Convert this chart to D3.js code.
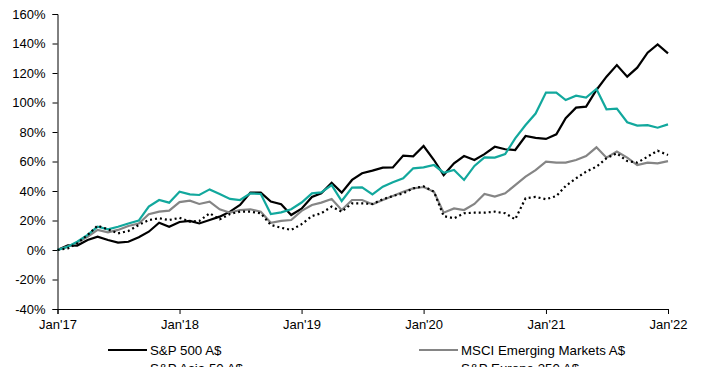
<!DOCTYPE html>
<html>
<head>
<meta charset="utf-8">
<script src="https://cdn.jsdelivr.net/npm/d3@7/dist/d3.min.js"></script>
<style>
  html, body { margin: 0; padding: 0; background: #fff; }
  svg { display: block; font-family: "Liberation Sans", Arial, sans-serif; }
</style>
</head>
<body>
<svg id="chart" width="704" height="367"></svg>
<script>
// Monthly cumulative returns (%), Jan 2017 – Jan 2022, in A$
const months = d3.timeMonth.range(new Date(2017, 0, 1), new Date(2022, 1, 1));

const sp500 = [0, 3.2, 3, 6.8, 9, 6.8, 5, 5.6, 8.6, 12.4, 18.5, 15.8, 19,
  19.7, 18, 20.3, 22.6, 26, 30.5, 38.9, 38.9, 32.8, 31, 23.7, 28,
  36, 38.4, 45.6, 38.9, 47.5, 52, 53.8, 55.8, 56, 64, 63.5, 70.5,
  61, 50.8, 58.8, 63.7, 61, 65, 70, 68.3, 67.8, 77.3, 76, 75.3,
  78.4, 89.3, 96.5, 97.2, 108.5, 117.5, 125.4, 117.5, 123.6, 133.8, 139.4, 133.3];

const msciEM = [0, 2.3, 5, 9, 13.6, 12, 13.6, 16.3, 18, 24.2, 26, 26.7, 32.5,
  33.4, 31.2, 32.8, 27.6, 25.3, 27.1, 27.6, 26, 18.5, 19.7, 20.3, 26.5,
  30.5, 32.1, 34.6, 27.1, 33.9, 33.9, 31, 33.9, 36.6, 39.5, 41.8, 42.7,
  39.5, 25.3, 28.2, 27.1, 31.2, 38, 36.2, 38.4, 44, 49.7, 54.2, 59.9,
  59.2, 59.2, 61, 63.7, 69.6, 62.6, 66.7, 62.6, 57.6, 59.2, 58.8, 60.3];

const spAsia50 = [0, 2.3, 5.6, 10.2, 15.8, 14, 15.8, 18, 19.9, 29.4, 33.9, 32.1, 39.5,
  37.7, 37.3, 41.1, 38, 34.6, 33.9, 38.4, 38, 24.4, 25.5, 27.6, 32.2,
  38.4, 39.1, 44, 33.2, 42.3, 42.5, 37.7, 42.9, 45.9, 48.6, 55.4, 56,
  57.6, 52.4, 54.2, 47.5, 57, 62.8, 62.6, 65, 75.7, 84.7, 92.5, 106.7,
  106.7, 101.7, 104.6, 103.3, 109.2, 95.4, 95.8, 86.6, 84.3, 84.7, 82.9, 85.2];

const spEurope350 = [0, 1.1, 4.5, 10.2, 16.5, 14, 11.3, 12.9, 17, 20.3, 21.5, 20.3, 21.8,
  19.2, 19.7, 24.9, 20.8, 24.4, 26, 26, 24.9, 17, 15.1, 13.6, 17.5,
  23, 24.9, 29.4, 26, 31.6, 31.6, 31.2, 34.4, 36.6, 38.4, 41.8, 43.2,
  39.5, 23, 21.5, 24.9, 25.3, 25.3, 26, 24.9, 20.8, 35.1, 36, 34.4,
  36.6, 43.4, 48.6, 53.1, 56.5, 62.2, 65.6, 60.3, 59.2, 63.3, 67.3, 64.4];

const seriesNames = ["S&P 500 A$", "MSCI Emerging Markets A$", "S&P Asia 50 A$", "S&P Europe 350 A$"];
const yTicks = [-40, -20, 0, 20, 40, 60, 80, 100, 120, 140, 160];
const xTickYears = [2017, 2018, 2019, 2020, 2021, 2022];

const series = [
  { name: seriesNames[0], values: sp500,       color: "#000000", dash: null },
  { name: seriesNames[1], values: msciEM,      color: "#858585", dash: null },
  { name: seriesNames[2], values: spAsia50,    color: "#12A89D", dash: null },
  { name: seriesNames[3], values: spEurope350, color: "#000000", dash: "2,3" }
];

const svg = d3.select("#chart");
const plot = { left: 57.5, right: 668, top: 14, bottom: 309 };

const x = d3.scaleTime()
  .domain([months[0], months[months.length - 1]])
  .range([plot.left, plot.right]);
const y = d3.scaleLinear().domain([-40, 160]).range([plot.bottom, plot.top]);

// axes
const yAxis = d3.axisLeft(y)
  .tickValues(yTicks)
  .tickFormat(d => d + "%")
  .tickSize(5)
  .tickPadding(7);
const xAxis = d3.axisBottom(x)
  .tickValues(xTickYears.map(yr => new Date(yr, 0, 1)))
  .tickFormat(d => "Jan'" + String(d.getFullYear()).slice(2))
  .tickSize(5)
  .tickPadding(6);

const gy = svg.append("g").attr("transform", `translate(${plot.left},0)`).call(yAxis);
const gx = svg.append("g").attr("transform", `translate(0,${plot.bottom})`).call(xAxis);
[gx, gy].forEach(g => {
  g.select(".domain").attr("stroke", "#000").attr("stroke-width", 1);
  g.selectAll(".tick line").attr("stroke", "#000");
  g.selectAll(".tick text").attr("fill", "#000").style("font-size", "13px")
    .style("font-family", "'Liberation Sans', Arial, sans-serif");
});

// lines
const line = d3.line()
  .x((d, i) => x(months[i]))
  .y(d => y(d));

svg.append("g").selectAll("path")
  .data(series)
  .join("path")
  .attr("d", s => line(s.values))
  .attr("fill", "none")
  .attr("stroke", s => s.color)
  .attr("stroke-width", 2.2)
  .attr("stroke-linejoin", "miter")
  .attr("stroke-dasharray", s => s.dash);

// legend: two columns, two rows (second row runs past the bottom edge)
const legendCols = [108, 419];
const legendRows = [350, 368];
const legend = svg.append("g").selectAll("g")
  .data(series)
  .join("g")
  .attr("transform", (s, i) => `translate(${legendCols[i % 2]},${legendRows[Math.floor(i / 2)]})`);
legend.append("line")
  .attr("x1", 0).attr("x2", 39)
  .attr("y1", 0).attr("y2", 0)
  .attr("stroke", s => s.color)
  .attr("stroke-width", 2.2)
  .attr("stroke-dasharray", s => s.dash);
legend.append("text")
  .attr("x", 42)
  .attr("y", 0)
  .attr("dy", "0.35em")
  .style("font-size", "13.3px")
  .attr("fill", "#000")
  .text(s => s.name);
</script>
</body>
</html>
